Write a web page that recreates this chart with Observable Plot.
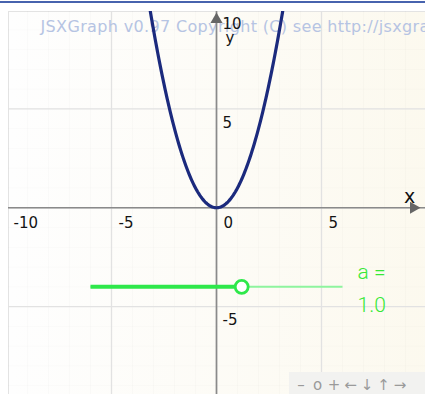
<!DOCTYPE html>
<html>
<head>
<meta charset="utf-8">
<script src="https://cdn.jsdelivr.net/npm/d3@7"></script>
<script src="https://cdn.jsdelivr.net/npm/@observablehq/plot@0.6"></script>
<style>
  body { margin: 0; background: #fff; }
  #wrap { position: relative; width: 425px; height: 394px; overflow: hidden; background: #fff; }
  #topline { position: absolute; left: 0; top: 1px; width: 425px; height: 2px; background: #4763ae; }
  #board { position: absolute; left: 8px; top: 11px; width: 430px; height: 400px;
           border: 1px solid #e3e3e3; background: linear-gradient(90deg, #fefefe, #fcf9ee); }
  #chart { position: absolute; left: 0; top: 0; }
  #nav { position: absolute; left: 289px; top: 372px; width: 140px; height: 30px;
         background: #f2f2f0; color: #9a9a9a; font: 15px "DejaVu Sans", sans-serif; }
  #nav span { position: absolute; top: 4px; width: 16px; text-align: center; }
</style>
</head>
<body>
<div id="wrap">
  <div id="topline"></div>
  <div id="board"></div>
  <div id="chart"></div>
  <div id="nav"></div>
</div>
<script>
// Axis ticks and grid
const xTicks = [-10, -5, 0, 5];
const yTicks = [10, 5, -5];
const majorGrid = [-10, -5, 0, 5, 10];
const minorGrid = d3.range(-10, 11);

// Slider controlling the parameter a of f(x) = a·x²
const a = 1.0;
const sliderMin = -5;
const sliderMax = 5;
const sliderStart = {x: -6, y: -4};
const sliderEnd = {x: 6, y: -4};

const copyright = "JSXGraph v0.97 Copyright (C) see http://jsxgraph.org";
const navButtons = ["\u2013", "o", "+", "\u2190", "\u2193", "\u2191", "\u2192"];

// Sampled graph of f(x) = a·x²
const curve = d3.range(-4, 4.0001, 0.05).map(x => ({x, y: a * x * x}));

// Knob position along the slider track
const t = (a - sliderMin) / (sliderMax - sliderMin);
const knob = {x: sliderStart.x + t * (sliderEnd.x - sliderStart.x), y: sliderStart.y};

const tickFont = {fontSize: 15, fontFamily: "DejaVu Sans, Verdana, sans-serif", fill: "#141414"};
const green = "#2ee84a";

const chart = Plot.plot({
  width: 425,
  height: 394,
  marginTop: 11,
  marginLeft: 8,
  marginRight: 0,
  marginBottom: 0,
  x: {domain: [-10, 10], range: [6, 426], axis: null},
  y: {domain: [-10, 10], range: [405, 9.5], axis: null},
  style: {background: "transparent", overflow: "visible"},
  marks: [
    // faint unit grid
    Plot.ruleX(minorGrid, {stroke: "#000", strokeOpacity: 0.014, clip: true}),
    Plot.ruleY(minorGrid, {stroke: "#000", strokeOpacity: 0.014, clip: true}),
    // major grid every 5 units
    Plot.ruleX(majorGrid, {stroke: "#e2e2e2", strokeWidth: 1.3, clip: true}),
    Plot.ruleY(majorGrid, {stroke: "#e2e2e2", strokeWidth: 1.3, clip: true}),
    // copyright watermark
    Plot.text([copyright], {frameAnchor: "top-left", dx: 32, dy: 20.5, text: d => d,
      textAnchor: "start", lineAnchor: "bottom", fontSize: 16,
      fontFamily: "DejaVu Sans, Verdana, sans-serif", fill: "#b6c4e3"}),
    // axes
    Plot.ruleY([0], {x1: -10, x2: 10, stroke: "#8a8a8a", strokeWidth: 1.7, clip: true}),
    Plot.ruleX([0], {y1: -10, y2: 10, stroke: "#8a8a8a", strokeWidth: 1.7, clip: true}),
    // axis arrowheads
    Plot.dot([{x: 10, y: 0}], {x: "x", y: "y", symbol: "triangle", r: 4.5, rotate: 90,
      fill: "#666", stroke: null, dx: -13}),
    Plot.dot([{x: 0, y: 10}], {x: "x", y: "y", symbol: "triangle", r: 4.5,
      fill: "#666", stroke: null, dy: 9.5}),
    // the parabola
    Plot.line(curve, {x: "x", y: "y", stroke: "#1b2a7d", strokeWidth: 3.2, clip: true}),
    // tick labels
    Plot.text(xTicks, {x: d => d, y: 0, text: d => String(d), dx: 7, dy: 15,
      textAnchor: "start", lineAnchor: "middle", ...tickFont}),
    Plot.text(yTicks, {x: 0, y: d => d, text: d => String(d), dx: 6, dy: 14,
      textAnchor: "start", lineAnchor: "middle", ...tickFont}),
    // axis names
    Plot.text(["y"], {x: 0, y: 10, text: d => d, dx: 9, dy: 28, textAnchor: "start",
      lineAnchor: "middle", ...tickFont}),
    Plot.text(["x"], {x: 10, y: 0, text: d => d, dx: -17, dy: -11,
      lineAnchor: "middle", fontSize: 19, fontFamily: "DejaVu Sans, sans-serif", fill: "#111"}),
    // slider track and knob
    Plot.link([{...sliderStart, x2: sliderEnd.x, y2: sliderEnd.y}],
      {x1: "x", y1: "y", x2: "x2", y2: "y2", stroke: "#8ef49e", strokeWidth: 2}),
    Plot.link([{...sliderStart, x2: knob.x, y2: knob.y}],
      {x1: "x", y1: "y", x2: "x2", y2: "y2", stroke: green, strokeWidth: 4}),
    Plot.dot([knob], {x: "x", y: "y", r: 6.5, fill: "white", stroke: green, strokeWidth: 2.8}),
    // slider label
    Plot.text(["a ="], {x: sliderEnd.x, y: sliderEnd.y, text: d => d, dx: 15, dy: -8,
      textAnchor: "start", lineAnchor: "bottom", fontSize: 21, fontWeight: 300,
      fontFamily: "Roboto, Lato, sans-serif", fill: "#36e836"}),
    Plot.text([a.toFixed(1)], {x: sliderEnd.x, y: sliderEnd.y, text: d => d, dx: 15, dy: 25,
      textAnchor: "start", lineAnchor: "bottom", fontSize: 21, fontWeight: 300,
      fontFamily: "Roboto, Lato, sans-serif", fill: "#36e836"})
  ]
});
// widen the watermark's letter spacing
d3.select(chart).selectAll("text")
  .filter(function() { return this.textContent === copyright; })
  .attr("letter-spacing", "0.35");
document.getElementById("chart").append(chart);

// navigation buttons
const nav = document.getElementById("nav");
navButtons.forEach((b, i) => {
  const s = document.createElement("span");
  s.textContent = b;
  s.style.left = (4 + i * 16.5) + "px";
  nav.append(s);
});
</script>
</body>
</html>
